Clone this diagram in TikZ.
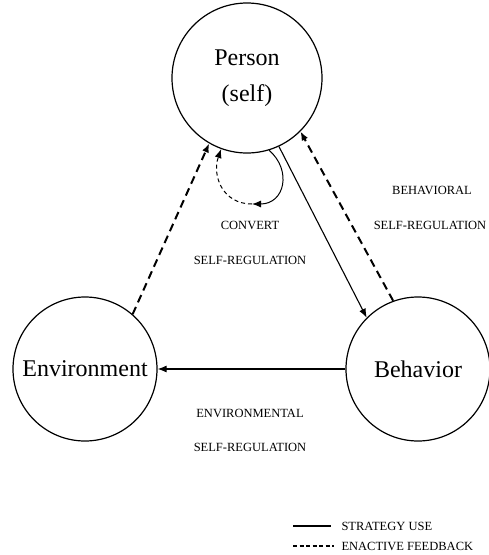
\documentclass[tikz,border=0pt]{standalone}
\usepackage{fontspec}
\setmainfont{Liberation Serif}
\usetikzlibrary{arrows.meta, positioning}

\begin{document}
\begin{tikzpicture}[x=1pt, y=-1pt,
    agent/.style={draw, circle, line width=1.2pt, inner sep=0pt, align=center,
      font=\fontsize{24}{36}\selectfont},
    lbl/.style={font=\fontsize{12.5}{15}\selectfont},
    use/.style={-{Latex[length=9pt,width=7pt]}, line width=1.1pt},
    feedback/.style={-{Latex[length=9pt,width=7pt]}, line width=2pt, dash pattern=on 8pt off 5pt}]
  \useasboundingbox (0,0) rectangle (488,555);

  % the three agents
  \node[agent, minimum size=150pt] (person) at (247,78) {Person\\(self)};
  \node[agent, minimum size=144pt] (env) at (85,369) {Environment};
  \node[agent, minimum size=144pt] (beh) at (418,369) {Behavior};

  % connectors
  \draw[feedback] (env.49) -- (person.240);
  \draw[use] (person.-65) -- (beh.135);
  \draw[feedback] (beh.110) -- (person.-45);
  \draw[use] (beh.west) -- (env.east);

  % loop under person
  \coordinate (loop) at (252,204);
  \draw[use, line width=1pt] (person.-73) .. controls (292,170) and (285,204) .. (loop);
  \draw[-{Latex[length=9pt,width=7pt]}, line width=1pt, dash pattern=on 4pt off 3pt]
    (loop) .. controls (222,204) and (212,175) .. (person.-110);

  % labels
  \node[lbl] (convert) at (250,225) {CONVERT};
  \node[lbl] (convertsr) at (250,260) {SELF-REGULATION};
  \node[lbl] (behav) at (432,190) {BEHAVIORAL};
  \node[lbl] (behavsr) at (430,225) {SELF-REGULATION};
  \node[lbl] (envir) at (250,413) {ENVIRONMENTAL};
  \node[lbl] (envirsr) at (250,447) {SELF-REGULATION};

  % legend
  \coordinate (su1) at (293,526);
  \coordinate (su2) at (331,526);
  \coordinate (ef1) at (293,546);
  \coordinate (ef2) at (334,546);
  \draw[line width=1.1pt] (su1) -- (su2);
  \draw[line width=1.1pt, dash pattern=on 4pt off 2.5pt] (ef1) -- (ef2);
  \node[lbl, anchor=west] (sutext) at (338,526) {STRATEGY USE};
  \node[lbl, anchor=west] (eftext) at (338,546) {ENACTIVE FEEDBACK};
\end{tikzpicture}
\end{document}
